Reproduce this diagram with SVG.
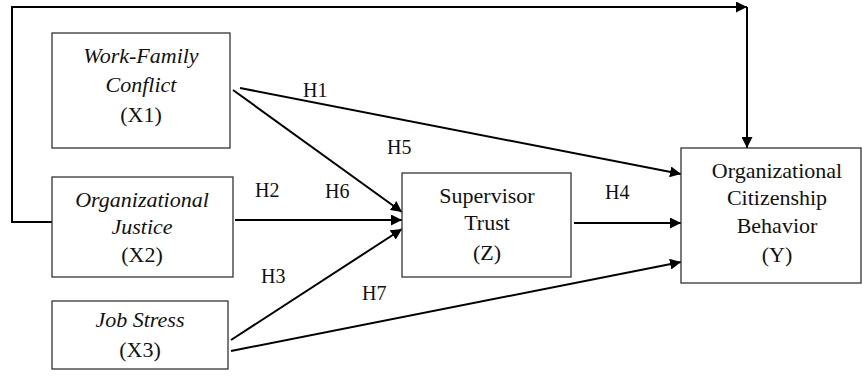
<svg xmlns="http://www.w3.org/2000/svg" width="862" height="379" viewBox="0 0 862 379" font-family="Liberation Serif, Times New Roman, serif">
  <style>
    .box { fill: #ffffff; stroke: #333333; stroke-width: 1.3; }
    .lbl { font-size: 22px; fill: #111111; text-anchor: middle; }
    .it { font-style: italic; }
    .hyp { font-size: 20px; fill: #111111; }
    .edge { fill: none; stroke: #000000; stroke-width: 2; }
  </style>
  <defs>
    <marker id="arrow" viewBox="0 0 10 10" refX="10" refY="5" markerWidth="11" markerHeight="11" markerUnits="userSpaceOnUse" orient="auto">
      <path d="M0,0 L10,5 L0,10 Z" fill="#000000"/>
    </marker>
  </defs>
  <rect width="862" height="379" fill="#ffffff"/>

  <g id="connectors">
    <!-- feedback path from Organizational Justice over the top to OCB -->
    <polyline class="edge" points="52,222 12,222 12,7 747,7" marker-end="url(#arrow)"/>
    <line class="edge" x1="747" y1="7" x2="747" y2="148" marker-end="url(#arrow)"/>
    <!-- H1 -->
    <line class="edge" x1="240" y1="88" x2="681" y2="174" marker-end="url(#arrow)"/>
    <!-- H5 / H6 -->
    <line class="edge" x1="233" y1="90" x2="402" y2="212" marker-end="url(#arrow)"/>
    <!-- H2 -->
    <line class="edge" x1="235" y1="220" x2="402" y2="220" marker-end="url(#arrow)"/>
    <!-- H3 -->
    <line class="edge" x1="231" y1="340" x2="402" y2="229" marker-end="url(#arrow)"/>
    <!-- H7 -->
    <line class="edge" x1="231" y1="351" x2="681" y2="262" marker-end="url(#arrow)"/>
    <!-- H4 -->
    <line class="edge" x1="574" y1="223" x2="681" y2="223" marker-end="url(#arrow)"/>

    <text class="hyp" x="303" y="97">H1</text>
    <text class="hyp" x="255" y="197">H2</text>
    <text class="hyp" x="261" y="283">H3</text>
    <text class="hyp" x="605" y="199">H4</text>
    <text class="hyp" x="387" y="154">H5</text>
    <text class="hyp" x="325" y="198">H6</text>
    <text class="hyp" x="362" y="300">H7</text>
  </g>

  <g id="x1">
    <rect class="box" x="52" y="33" width="178" height="115"/>
    <text class="lbl it" x="141" y="63">Work-Family</text>
    <text class="lbl it" x="141" y="92">Conflict</text>
    <text class="lbl" x="141" y="122">(X1)</text>
  </g>

  <g id="x2">
    <rect class="box" x="52" y="177" width="181" height="100"/>
    <text class="lbl it" x="142" y="207">Organizational</text>
    <text class="lbl it" x="142" y="234">Justice</text>
    <text class="lbl" x="142" y="262">(X2)</text>
  </g>

  <g id="x3">
    <rect class="box" x="52" y="301" width="176" height="68"/>
    <text class="lbl it" x="140" y="327">Job Stress</text>
    <text class="lbl" x="140" y="357">(X3)</text>
  </g>

  <g id="z">
    <rect class="box" x="402" y="173" width="169" height="104"/>
    <text class="lbl" x="487" y="203">Supervisor</text>
    <text class="lbl" x="487" y="230">Trust</text>
    <text class="lbl" x="487" y="260">(Z)</text>
  </g>

  <g id="y">
    <rect class="box" x="681" y="148" width="180" height="135"/>
    <text class="lbl" x="777" y="178">Organizational</text>
    <text class="lbl" x="777" y="205">Citizenship</text>
    <text class="lbl" x="777" y="233">Behavior</text>
    <text class="lbl" x="777" y="262">(Y)</text>
  </g>
</svg>
